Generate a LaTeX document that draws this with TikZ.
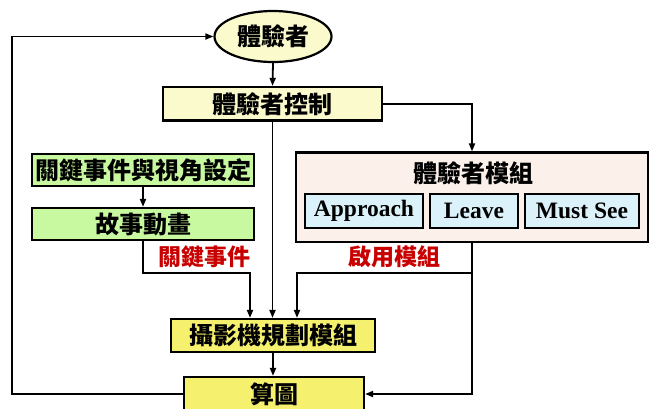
\documentclass[tikz,border=0pt]{standalone}
\usepackage{fontspec}
\setmainfont{Liberation Serif}
\newfontfamily\cjk{Noto Sans CJK TC}
\usetikzlibrary{shapes.geometric,arrows.meta}
\definecolor{ltyellow}{RGB}{250,250,205}
\definecolor{ltgreen}{RGB}{200,248,160}
\definecolor{myyellow}{RGB}{245,240,110}
\definecolor{ltpink}{RGB}{252,240,234}
\definecolor{ltblue}{RGB}{220,242,250}
\definecolor{myred}{RGB}{200,0,0}
\tikzset{
  box/.style={draw=black, line width=2.2pt, inner sep=0pt, font=\cjk\bfseries\fontsize{24}{24}\selectfont},
  sub/.style={draw=black, line width=1.5pt, fill=ltblue, inner sep=0pt, minimum height=34pt, font=\bfseries\fontsize{23.5}{23.5}\selectfont},
  conn/.style={line width=1.8pt, -{Triangle[length=8pt,width=6pt]}},
  lbl/.style={text=myred, font=\cjk\bfseries\fontsize{23}{23}\selectfont}
}
\begin{document}
\begin{tikzpicture}[x=1pt,y=-1pt]
\path[use as bounding box, clip] (0,0) rectangle (652,408);
\node[box, ellipse, fill=ltyellow, minimum width=117pt, minimum height=51pt] (ell) at (273,36.5) {體驗者};
\node[box, fill=ltyellow, minimum width=219pt, minimum height=33.5pt] (ctrl) at (272.5,103.75) {體驗者控制};
\node[box, fill=ltgreen, minimum width=222pt, minimum height=32pt] (key) at (143,170) {關鍵事件與視角設定};
\node[box, fill=ltgreen, minimum width=222pt, minimum height=32pt] (story) at (143,224) {故事動畫};
\node[box, fill=ltpink, minimum width=352pt, minimum height=89.5pt] (mod) at (472,197.25) {};
\node[font=\cjk\bfseries\fontsize{24}{24}\selectfont] (modt) at (473,173) {體驗者模組};
\node[sub, minimum width=118pt] (app) at (364,211) {Approach};
\node[sub, minimum width=88pt] (leave) at (474,211) {Leave};
\node[sub, minimum width=114pt] (must) at (582,211) {Must See};
\node[box, fill=myyellow, minimum width=204pt, minimum height=33pt] (cam) at (273,335.5) {攝影機規劃模組};
\node[box, fill=myyellow, minimum width=180pt, minimum height=34pt] (render) at (274,394) {算圖};
\node[lbl] (l1) at (204,257) {關鍵事件};
\node[lbl] (l2) at (394,257) {啟用模組};
\draw[conn] (ell.south) -- (ctrl.north);
\draw[conn] (ctrl.east) -| (mod.north);
\draw[conn] (key.south) -- (story.north);
\draw[conn] (story.south) -- ++(0,32) -| ([xshift=-23pt]cam.north);
\draw[conn] (ctrl.south) -- ([xshift=-0.5pt]cam.north);
\draw[conn] (mod.south) |- (render.east);
\coordinate (br) at (472,273);
\draw[conn] (br) -| ([xshift=24pt]cam.north);
\draw[conn] (cam.south) -- ([xshift=-1pt]render.north);
\draw[conn] (render.west) -- ++(-171,0) |- (ell.west);
\end{tikzpicture}
\end{document}
